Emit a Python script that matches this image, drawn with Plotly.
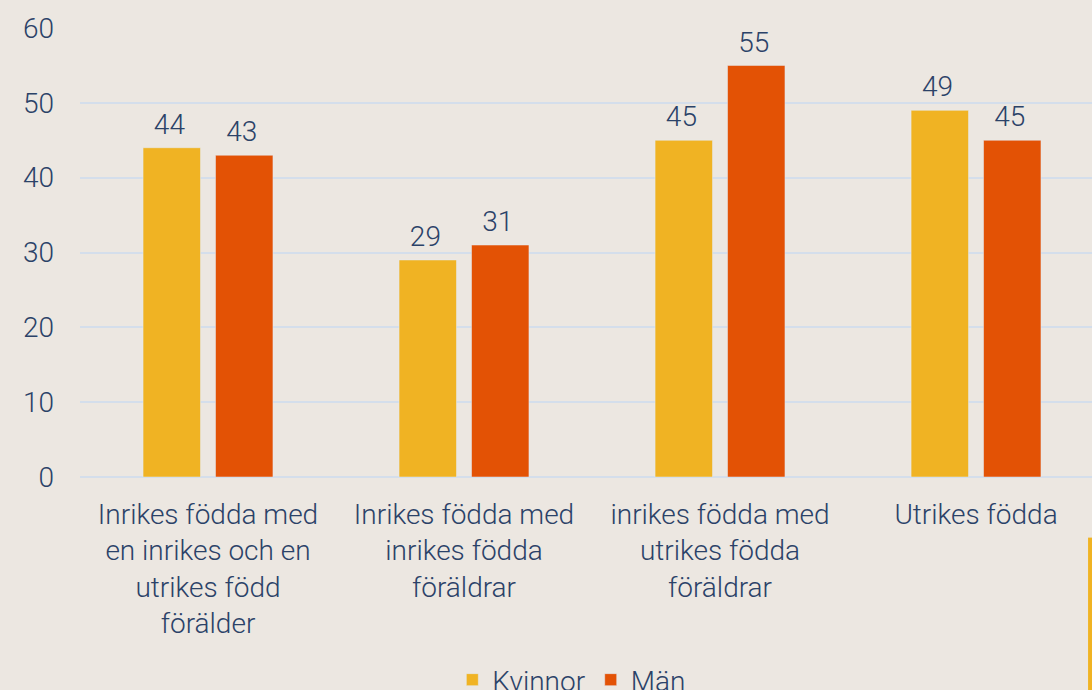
import plotly.graph_objects as go

categories = [
    "Inrikes födda med<br>en inrikes och en<br>utrikes född<br>förälder",
    "Inrikes födda med<br>inrikes födda<br>föräldrar",
    "inrikes födda med<br>utrikes födda<br>föräldrar",
    "Utrikes födda",
]
kvinnor = [44, 29, 45, 49]
man = [43, 31, 55, 45]

navy = "#2b4268"
bg = "#ece7e1"
font = dict(family="Roboto", size=28, color=navy, weight=300)

# a subscript blank lifts the value label a little above the bar
label_tpl = "%{y}<sub>\u00a0</sub>"

fig = go.Figure()
fig.add_trace(go.Bar(
    x=categories, y=kvinnor, name="Kvinnor",
    marker_color="#f0b323", texttemplate=label_tpl, textposition="outside",
    textfont=font, cliponaxis=False,
))
fig.add_trace(go.Bar(
    x=categories, y=man, name="Män",
    marker_color="#e35205", texttemplate=label_tpl, textposition="outside",
    textfont=font, cliponaxis=False,
))

fig.update_layout(
    width=1092,
    height=690,
    paper_bgcolor=bg,
    plot_bgcolor=bg,
    font=font,
    barmode="group",
    bargap=0.434,
    bargroupgap=0.207,
    margin=dict(l=80, r=0, t=28, b=213, autoexpand=False),
    legend=dict(
        orientation="h", x=0.486, xanchor="center", y=-0.452, yanchor="middle",
        font=font, itemwidth=30, bgcolor="rgba(0,0,0,0)",
    ),
    shapes=[dict(
        type="rect", xref="paper", yref="paper",
        x0=0.9961, x1=1.0, y0=-0.5, y1=-0.135,
        fillcolor="#f0b323", line_width=0, layer="above",
    )],
    uniformtext=dict(mode=False),
)
fig.update_xaxes(
    range=[-0.5, 3.453], showgrid=False, zeroline=False, showline=False,
    ticks="", ticklabelstandoff=18, tickfont=font,
)
fig.update_yaxes(
    range=[0, 60], dtick=10, showgrid=True, gridcolor="#d4deeb", gridwidth=2,
    zeroline=True, zerolinecolor="#d4deeb", zerolinewidth=2,
    showline=False, ticks="", ticklabelstandoff=25, tickfont=font,
)

fig.write_html(
    "out.html",
    config={"displayModeBar": False},
    post_script="document.body.style.margin='0';",
)
